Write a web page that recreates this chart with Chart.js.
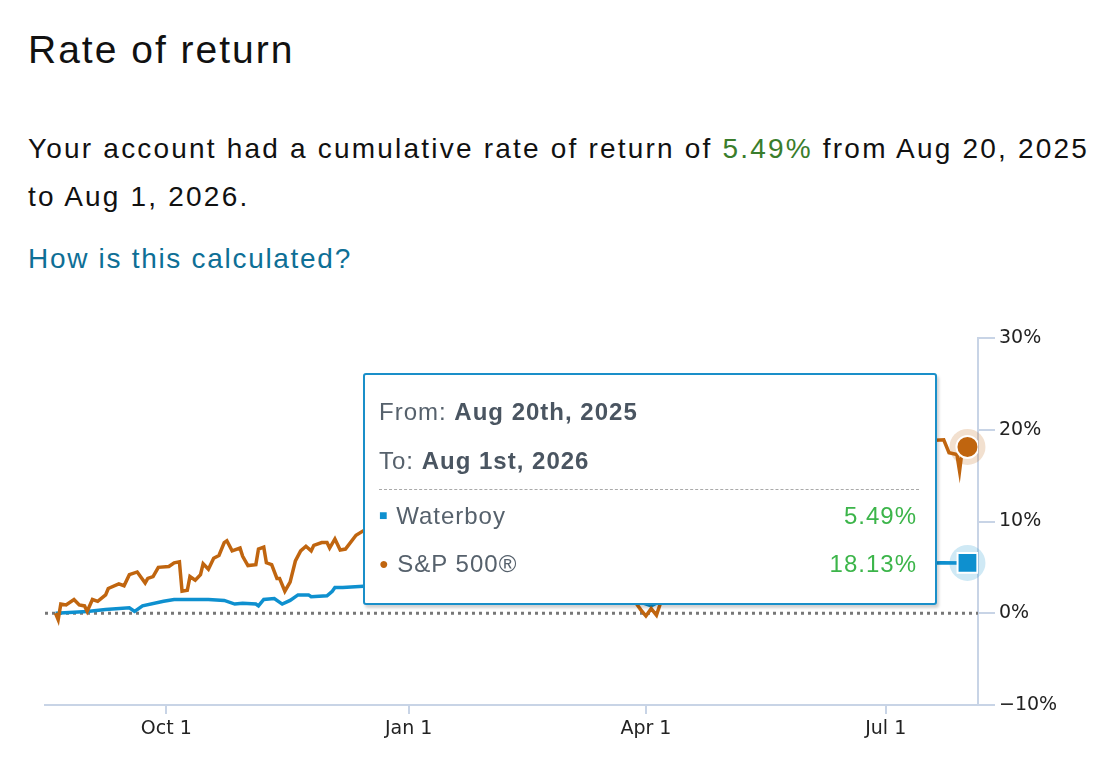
<!DOCTYPE html>
<html>
<head>
<meta charset="utf-8">
<script src="https://cdn.jsdelivr.net/npm/chart.js@4"></script>
<style>
  body { margin: 0; width: 1116px; height: 778px; background: #fff; font-family: "Liberation Sans", Arial, sans-serif; color: #111; position: relative; overflow: hidden; }
  h1 { position: absolute; left: 28px; top: 28px; margin: 0; font-weight: normal; font-size: 39px; letter-spacing: 2px; }
  .p { position: absolute; left: 28px; top: 125px; font-size: 28px; line-height: 48px; margin: 0; width: 1088px; letter-spacing: 2.2px; white-space: nowrap; }
  .green { color: #3a7d2c; }
  .link { position: absolute; left: 28px; top: 243px; font-size: 28px; color: #0e6f96; letter-spacing: 1.7px; }
  #wrap { position: absolute; left: 0; top: 290px; width: 1116px; height: 460px; }
  .tip { position: absolute; left: 363px; top: 373px; width: 570px; height: 228px; border: 2px solid #1a8fc9; border-radius: 3px; background: #fff; box-shadow: 2px 3px 3px rgba(0,0,0,0.18); color: #56616c; font-size: 24px; letter-spacing: 1px; }
  .tip div { position: absolute; left: 14px; }
  .tip b { color: #4a5561; }
  .tip .sep { left: 14px; top: 114px; width: 540px; border-top: 1px dashed #aaa; }
  .tip .val { left: auto; right: 18px; color: #3cb54a; }
</style>
</head>
<body>
<h1>Rate of return</h1>
<p class="p">Your account had a cumulative rate of return of <span class="green">5.49%</span> from Aug 20, 2025<br>to Aug 1, 2026.</p>
<div class="link">How is this calculated?</div>
<div id="wrap"><canvas id="c"></canvas></div>
<div class="tip">
  <div style="top:23px">From: <b>Aug 20th, 2025</b></div>
  <div style="top:72px">To: <b>Aug 1st, 2026</b></div>
  <div class="sep"></div>
  <div style="top:127px"><span style="color:#0e90cf;font-size:14px;vertical-align:4px">■</span> Waterboy</div>
  <div class="val" style="top:127px">5.49%</div>
  <div style="top:175px"><span style="color:#c0650f;font-size:16px;vertical-align:3px">●</span> S&amp;P 500®</div>
  <div class="val" style="top:175px">18.13%</div>
</div>
<script>
// days since Aug 20, 2025
const spDays = [0,1,2,4,7,9,11,12,14,16,19,20,24,26,28,31,34,35,37,39,43,45,47,48,50,51,53,55,56,58,60,62,64,65,67,70,71,73,76,77,79,80,82,84,85,87,89,91,93,95,97,98,101,103,104,106,108,
  110,114,118,122,126,130,134,138,142,146,150,154,158,162,166,170,174,178,182,186,190,194,198,202,206,210,214,218,220,222,224,226,228,230,234,238,242,246,250,254,258,262,266,270,274,278,282,286,290,294,298,302,306,310,314,318,322,326,330,337,339,342,343,344,346];
const spValues = [0,-0.7,1.0,0.9,1.5,0.9,0.8,0.2,1.5,1.3,2.0,2.7,3.2,3.0,4.2,4.5,3.3,3.8,4.0,5.0,5.1,5.5,5.6,2.4,2.5,4.0,3.6,4.2,5.4,4.8,6.0,6.3,7.7,7.9,6.8,7.1,6.2,5.2,5.3,7.0,7.2,5.5,5.3,3.8,3.8,2.4,3.4,5.7,6.8,7.3,6.8,7.4,7.7,7.7,7.1,8.1,6.9,
  7.0,8.5,9.2,8.8,9.5,10.4,9.9,11.0,10.2,11.3,12.0,11.2,12.3,11.8,12.6,11.9,12.1,10.8,11.5,10.0,9.2,10.1,8.5,7.8,6.2,5.0,3.8,2.6,1.2,0.4,-0.3,0.5,-0.2,1.5,3.2,5.0,6.8,7.9,9.0,10.2,11.0,11.8,12.7,13.1,13.8,14.2,14.9,15.3,16.0,16.4,16.8,17.2,17.0,17.6,18.0,17.8,18.4,18.9,18.8,18.9,17.5,17.3,15.5,17.8,18.13];
const wbDays = [0,12,19,28,30,33,41,45,52,58,64,68,71,76,77,79,83,86,89,92,96,97,103,105,106,109,120,135,150,165,180,195,210,222,226,230,245,260,275,290,305,320,336,346];
const wbValues = [0,0.2,0.4,0.6,0.2,0.8,1.3,1.5,1.5,1.5,1.4,1.0,1.1,1.0,0.8,1.5,1.6,1.0,1.4,2.0,2.0,1.8,1.9,2.4,2.8,2.8,3.0,3.2,3.6,3.9,4.0,3.8,3.2,1.2,0.8,1.4,3.4,4.0,4.4,4.8,5.1,5.3,5.5,5.49];
const xTicks = [42, 134, 224, 315];
const xTickLabels = ['Oct 1', 'Jan 1', 'Apr 1', 'Jul 1'];
const yTicks = [-10, 0, 10, 20, 30];

const axisColor = '#c8d4e6';
const pts = (d, v) => d.map((x, i) => ({ x: x, y: v[i] }));
const lastR = (n, r) => ctx => ctx.dataIndex === n - 1 ? r : 0;

const extras = {
  id: 'extras',
  beforeDatasetsDraw(chart) {
    const c = chart.ctx, y = chart.scales.y;
    c.save();
    // zero line
    c.strokeStyle = '#777'; c.lineWidth = 3; c.setLineDash([3, 4]);
    const y0 = y.getPixelForValue(0);
    c.beginPath(); c.moveTo(chart.chartArea.left, y0); c.lineTo(chart.chartArea.right, y0); c.stroke();
    c.setLineDash([]);
    // x axis extension past the y axis
    c.strokeStyle = axisColor; c.lineWidth = 2;
    c.beginPath(); c.moveTo(chart.chartArea.right, chart.chartArea.bottom); c.lineTo(chart.chartArea.right + 17, chart.chartArea.bottom); c.stroke();
    // halos on end points
    const sp = chart.getDatasetMeta(0).data.at(-1), wb = chart.getDatasetMeta(1).data.at(-1);
    c.fillStyle = 'rgba(192,101,15,0.2)';
    c.beginPath(); c.arc(sp.x, sp.y, 18, 0, Math.PI * 2); c.fill();
    c.fillStyle = 'rgba(14,144,207,0.2)';
    c.beginPath(); c.arc(wb.x, wb.y, 18, 0, Math.PI * 2); c.fill();
    c.restore();
  }
};

new Chart(document.getElementById('c'), {
  type: 'line',
  data: {
    datasets: [
      { label: 'S&P 500®', data: pts(spDays, spValues), borderColor: '#c0650f', backgroundColor: '#c0650f', borderWidth: 3.5, tension: 0,
        pointRadius: lastR(spDays.length, 11), pointBorderColor: '#fff', pointBorderWidth: 2 },
      { label: 'Waterboy', data: pts(wbDays, wbValues), borderColor: '#0e90cf', backgroundColor: '#0e90cf', borderWidth: 3.5, tension: 0,
        pointStyle: 'rect', pointRadius: lastR(wbDays.length, 14), pointBorderColor: '#fff', pointBorderWidth: 2 }
    ]
  },
  options: {
    responsive: true, maintainAspectRatio: false, animation: false,
    layout: { padding: { left: 45, top: 48, right: 0, bottom: 0 } },
    plugins: { legend: { display: false }, tooltip: { enabled: false } },
    scales: {
      x: {
        type: 'linear', min: -4, max: 350,
        afterBuildTicks: ax => { ax.ticks = xTicks.map(v => ({ value: v })); },
        afterFit: ax => { ax.height = 45; },
        ticks: { callback: v => xTickLabels[xTicks.indexOf(v)], color: '#222', font: { family: 'DejaVu Sans', size: 19 }, maxRotation: 0, padding: 4 },
        grid: { drawOnChartArea: false, tickLength: 9, color: axisColor, lineWidth: 2 },
        border: { color: axisColor, width: 2 }
      },
      y: {
        position: 'right', min: -10, max: 30,
        afterBuildTicks: ax => { ax.ticks = yTicks.map(v => ({ value: v })); },
        afterFit: ax => { ax.width = 138; },
        ticks: { callback: v => (v < 0 ? '−' + (-v) : v) + '%', color: '#222', font: { family: 'DejaVu Sans', size: 19 }, padding: 4 },
        grid: { drawOnChartArea: false, tickLength: 17, color: axisColor, lineWidth: 2 },
        border: { color: axisColor, width: 2 }
      }
    }
  },
  plugins: [extras]
});
</script>
</body>
</html>
